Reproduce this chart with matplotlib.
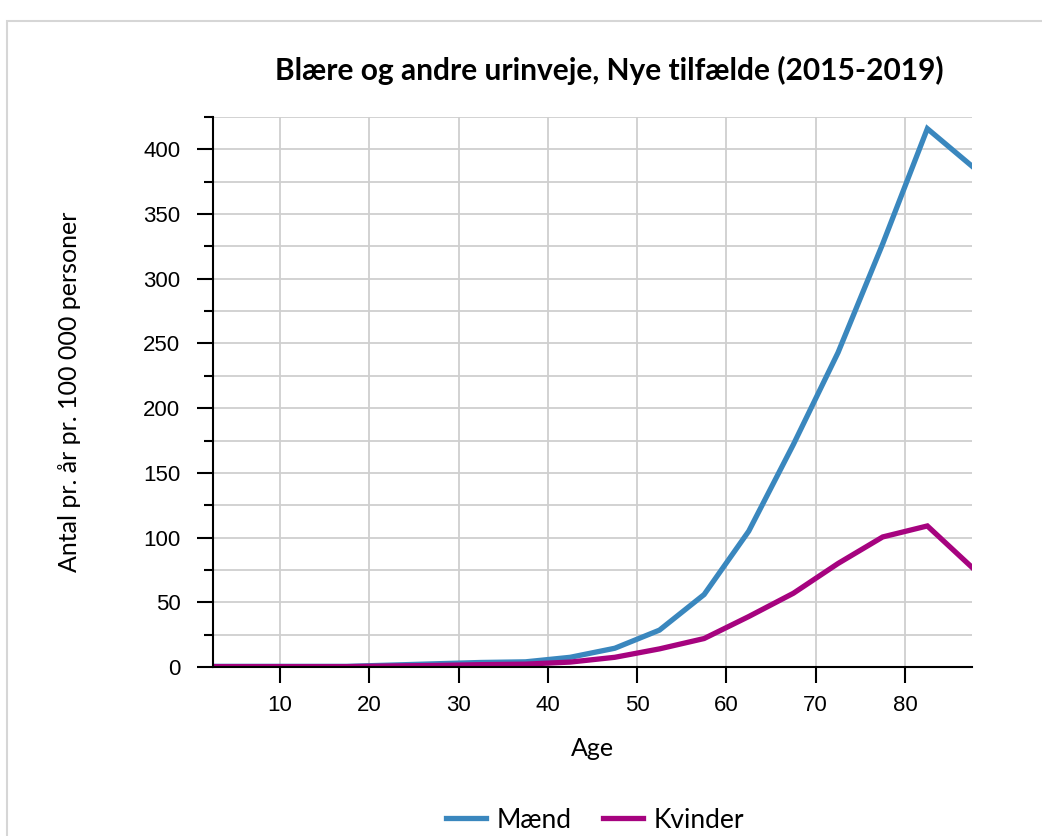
import numpy as np
import matplotlib.pyplot as plt
from matplotlib.patches import Rectangle
from matplotlib.ticker import MultipleLocator

# age group midpoints
ages = [2.5, 7.5, 12.5, 17.5, 22.5, 27.5, 32.5, 37.5, 42.5,
        47.5, 52.5, 57.5, 62.5, 67.5, 72.5, 77.5, 82.5, 87.5]
maend = [0.5, 0.5, 0.5, 0.5, 1.5, 2.5, 3.5, 4, 7.5,
         14.5, 28.5, 56, 105, 172, 243, 327, 416, 387]
kvinder = [0.3, 0.3, 0.3, 0.3, 0.8, 1.2, 1.8, 2.2, 3.8,
           7.5, 14, 22, 39, 57, 80, 100.5, 109, 77]

blue = '#3a87be'
magenta = '#a6037f'

plt.rcParams['font.family'] = ['Liberation Sans', 'DejaVu Sans']

fig = plt.figure(figsize=(10.42, 8.36), dpi=100)
fig.patches.append(Rectangle((7 / 1042, -0.1), 1.2, 1 - 21 / 836 + 0.1,
                             transform=fig.transFigure, fill=False,
                             edgecolor='#d6d6d6', linewidth=1.5))

ax = fig.add_axes([213 / 1042, 1 - 667 / 836, (972 - 213) / 1042, (667 - 117) / 836])
ax.plot(ages, maend, c=blue, linewidth=3.8, label='Mænd', solid_joinstyle='miter')
ax.plot(ages, kvinder, c=magenta, linewidth=3.8, label='Kvinder', solid_joinstyle='miter')

ax.set_xlim([2.5, 87.5])
ax.set_ylim([0, 425])
ax.set_xticks([10, 20, 30, 40, 50, 60, 70, 80])
ax.yaxis.set_major_locator(MultipleLocator(50))
ax.yaxis.set_minor_locator(MultipleLocator(25))
ax.grid(True, which='both', axis='y', color='#cfcfcf', linewidth=1.3)
ax.grid(True, which='major', axis='x', color='#cfcfcf', linewidth=1.3)
ax.set_axisbelow(True)

for s in ['top', 'right']:
    ax.spines[s].set_visible(False)
for s in ['left', 'bottom']:
    ax.spines[s].set_linewidth(1.5)

ax.tick_params(axis='y', which='major', length=11.5, width=1.5, labelsize=16, pad=12)
ax.tick_params(axis='y', which='minor', length=6.5, width=1.5)
ax.tick_params(axis='x', which='major', length=11.5, width=1.5, labelsize=16, pad=9)

fig.text(70 / 1042, 1 - 392 / 836, 'Antal pr. år pr. 100 000 personer', rotation=90,
         ha='center', va='center', fontsize=18, family='Lato')
fig.text(592 / 1042, 1 - 748 / 836, 'Age', ha='center', va='center',
         fontsize=18, family='Lato')

fig.text(609 / 1042, 1 - 70 / 836, 'Blære og andre urinveje, Nye tilfælde (2015-2019)',
         ha='center', va='center', fontsize=21.5, fontweight='bold', family='Lato')

fig.legend(loc='center', bbox_to_anchor=(595 / 1042, 1 - 820 / 836), ncol=2,
           frameon=False, prop={'family': 'Lato', 'size': 19},
           handlelength=1.5, handletextpad=0.4, columnspacing=1.2)

fig.savefig('out.png', dpi=100)
